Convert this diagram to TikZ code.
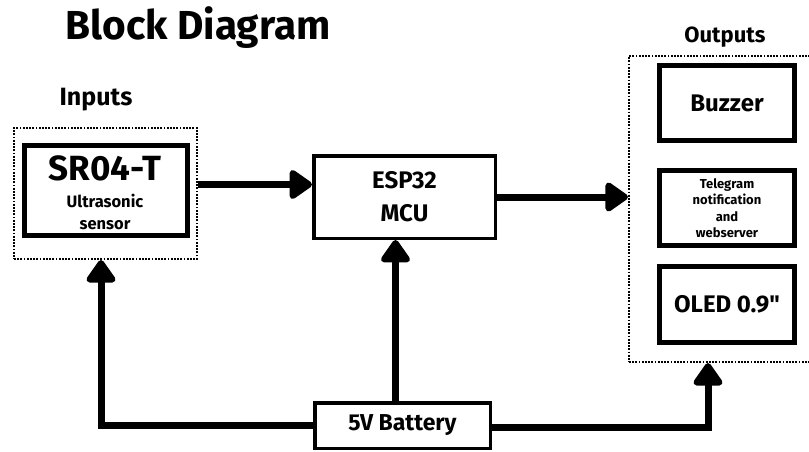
\documentclass[tikz,border=0pt]{standalone}
\usepackage{fontspec}
\setmainfont{Fira Sans}
\newfontfamily\rawfira{Fira Sans}
\usetikzlibrary{arrows.meta}
\tikzset{
  blk/.style={draw, line width=5pt, minimum width=135pt, minimum height=75pt, align=center, font=\bfseries},
  mblk/.style={draw, line width=3.5pt, align=center, font=\bfseries},
  grp/.style={draw, line width=2.2pt, dash pattern=on 1.8pt off 1.4pt},
  pwr/.style={line width=7pt, -{Triangle[length=25pt,width=33pt,round]}},
}
\begin{document}
\begin{tikzpicture}[x=1pt,y=-1pt]
\useasboundingbox (0,0) rectangle (809,452);
% headings
\node[font=\fontsize{40.5}{42}\selectfont\bfseries] (title) at (198,28) {Block Diagram};
\node[font=\fontsize{25}{28}\selectfont\bfseries] (inlbl) at (96,100) {Inputs};
\node[font=\fontsize{22}{26}\selectfont\bfseries] (outlbl) at (725,37) {Outputs};
% input side
\node[grp, minimum width=183pt, minimum height=131pt] (inputs) at (105.5,193.5) {};
\node[blk, minimum width=163pt, minimum height=90pt] (sensor) at (106,190.5) {};
\node[font=\fontsize{35}{38}\selectfont\bfseries] (sname) at (105,168) {SR04-T};
\node[font=\fontsize{16.5}{21.5}\selectfont\bfseries, align=center] (sdesc) at (105,212) {Ultrasonic\\sensor};
% controller and supply
\node[mblk, minimum width=181.5pt, minimum height=82.5pt,
      font=\fontsize{24}{33}\selectfont\bfseries] (esp) at (404.5,197) {ESP32\\MCU};
\node[mblk, minimum width=175.5pt, minimum height=45.5pt,
      font=\fontsize{23}{26}\selectfont\bfseries] (bat) at (402.5,425.5) {5V Battery};
% output side
\node[grp, minimum width=184pt, minimum height=306pt] (outputs) at (721,209) {};
\node[blk, font=\fontsize{24}{28}\selectfont\bfseries] (buzzer) at (727,103) {Buzzer};
\node[blk, font=\fontsize{13}{16.5}\selectfont\bfseries] (tgram) at (727,208) {Telegram\\notification\\and\\webserver};
\node[blk, minimum height=76pt, font=\fontsize{24}{28}\selectfont\bfseries] (oled) at (727,304.5) {OLED 0.9{\rawfira\bfseries"}};
% signal flow
\draw[pwr] ([yshift=9pt]inputs.east) -- ([yshift=9pt]inputs.east -| esp.west);
\draw[pwr] (esp.east) -- (esp.east -| outputs.west);
% power lines
\draw[pwr] (bat.west) -| ([xshift=-4.5pt]inputs.south);
\draw[pwr] ([xshift=-7pt]bat.north) -- ([xshift=-7pt]bat.north |- esp.south);
\draw[pwr] ([yshift=-2pt]bat.east) -| ([xshift=-19pt]buzzer.south |- outputs.south);
\end{tikzpicture}
\end{document}
